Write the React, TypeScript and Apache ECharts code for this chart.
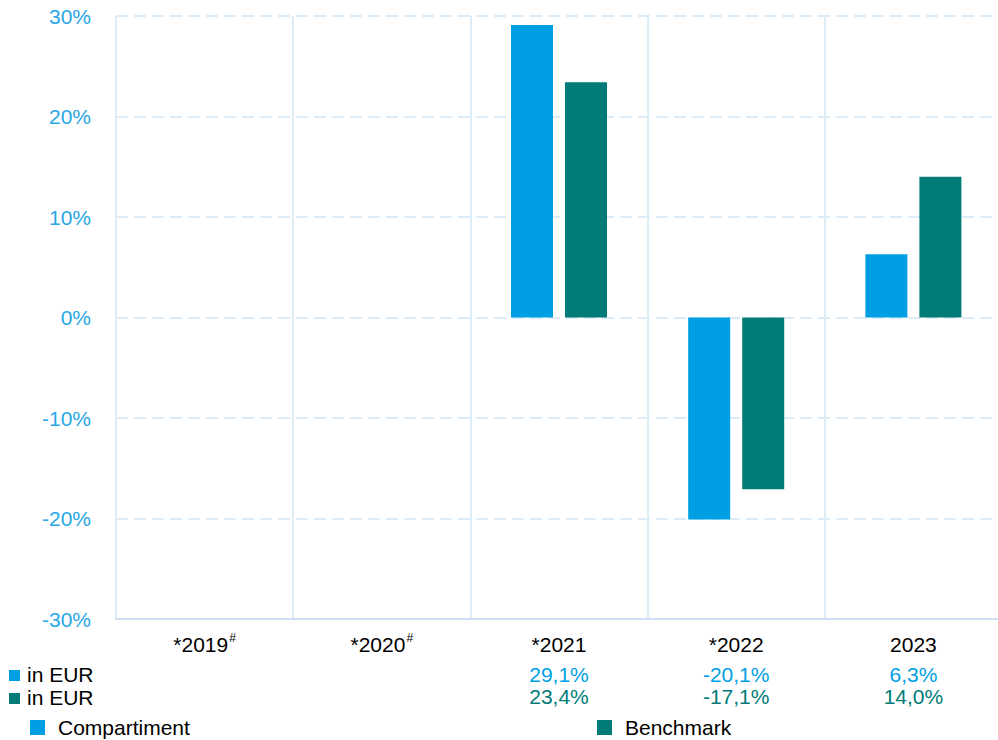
import React, { useEffect, useRef } from "react";
import * as echarts from "echarts";

const categories = ["*2019", "*2020", "*2021", "*2022", "2023"];
const footnoteMark = [true, true, false, false, false];
const compartiment = [null, null, 29.1, -20.1, 6.3];
const benchmark = [null, null, 23.4, -17.1, 14.0];
const seriesNames = ["Compartiment", "Benchmark"];
const rowLabel = "in EUR";
const yTicks = { min: -30, max: 30, interval: 10 };

const BLUE = "#009fe3";
const TEAL = "#007b78";
const FONT = "'Liberation Sans', Arial, sans-serif";

const fmt = (v: number | null) =>
  v === null || v === undefined ? "" : v.toFixed(1).replace(".", ",") + "%";

export default function App() {
  const ref = useRef<HTMLDivElement>(null);
  useEffect(() => {
    if (!ref.current) return;
    const chart = echarts.init(ref.current, undefined, { renderer: "svg" });
    const valueAxis = (offset: number, values: (number | null)[], color: string) => ({
      type: "category",
      data: categories,
      position: "bottom",
      offset,
      gridIndex: 0,
      axisLine: { show: false, onZero: false },
      axisTick: { show: false },
      splitLine: { show: false },
      axisLabel: {
        margin: 14.5,
        fontSize: 21,
        fontFamily: FONT,
        color,
        formatter: (_v: string, i: number) => fmt(values[i]),
      },
    });
    const legendBase = {
      top: 717,
      padding: 0,
      itemWidth: 15,
      itemHeight: 15,
      icon: "rect",
      textStyle: { fontSize: 21, color: "#000", fontFamily: FONT, padding: [0, 0, 0, 8] },
    };
    chart.setOption({
      animation: false,
      textStyle: { fontFamily: FONT },
      grid: { left: 116, right: 0, top: 16, bottom: 121, containLabel: false },
      legend: [
        { ...legendBase, data: [seriesNames[0]], left: 30 },
        { ...legendBase, data: [seriesNames[1]], left: 597 },
      ],
      xAxis: [
        {
          type: "category",
          data: categories,
          position: "bottom",
          axisLine: { show: true, onZero: false, lineStyle: { color: "#cddff1", width: 2 } },
          axisTick: { show: false },
          splitLine: { show: true, lineStyle: { color: "#dcedf8", width: 2, type: "solid" } },
          axisLabel: {
            margin: 13,
            fontFamily: FONT,
            color: "#000",
            formatter: (v: string, i: number) =>
              footnoteMark[i] ? `{m|${v}}{sup|#}` : `{m|${v}}`,
            rich: {
              m: { fontSize: 21, lineHeight: 24, color: "#000", fontFamily: FONT },
              sup: { fontSize: 12, lineHeight: 12, verticalAlign: "top", color: "#000", fontFamily: FONT, padding: [0, 0, 0, 1] },
            },
          },
        },
        valueAxis(30, compartiment, BLUE),
        valueAxis(52.5, benchmark, TEAL),
      ],
      yAxis: {
        type: "value",
        min: yTicks.min,
        max: yTicks.max,
        interval: yTicks.interval,
        axisLine: { show: false },
        axisTick: { show: false },
        axisLabel: {
          margin: 25,
          fontSize: 21,
          fontFamily: FONT,
          color: "#2aa7e6",
          formatter: "{value}%",
        },
        splitLine: { show: true, lineStyle: { color: "#dcecf8", width: 2, type: [12, 6] } },
      },
      series: [
        {
          name: seriesNames[0],
          type: "bar",
          data: compartiment,
          barWidth: 42,
          barGap: "28.6%",
          itemStyle: { color: BLUE },
        },
        {
          name: seriesNames[1],
          type: "bar",
          data: benchmark,
          barWidth: 42,
          itemStyle: { color: TEAL },
        },
      ],
      graphic: [
        { type: "rect", shape: { x: 9, y: 670, width: 11, height: 11 }, style: { fill: BLUE } },
        { type: "text", x: 27, y: 674.5, style: { text: rowLabel, fontSize: 21, fontFamily: FONT, fill: "#000", verticalAlign: "middle" } },
        { type: "rect", shape: { x: 9, y: 693, width: 11, height: 11 }, style: { fill: TEAL } },
        { type: "text", x: 27, y: 697.5, style: { text: rowLabel, fontSize: 21, fontFamily: FONT, fill: "#000", verticalAlign: "middle" } },
      ],
    });
    return () => chart.dispose();
  }, []);
  return (
    <div style={{ position: "absolute", left: 0, top: 0, width: 998, height: 740, overflow: "hidden" }}>
      <div ref={ref} style={{ width: 1002, height: 740 }} />
    </div>
  );
}
